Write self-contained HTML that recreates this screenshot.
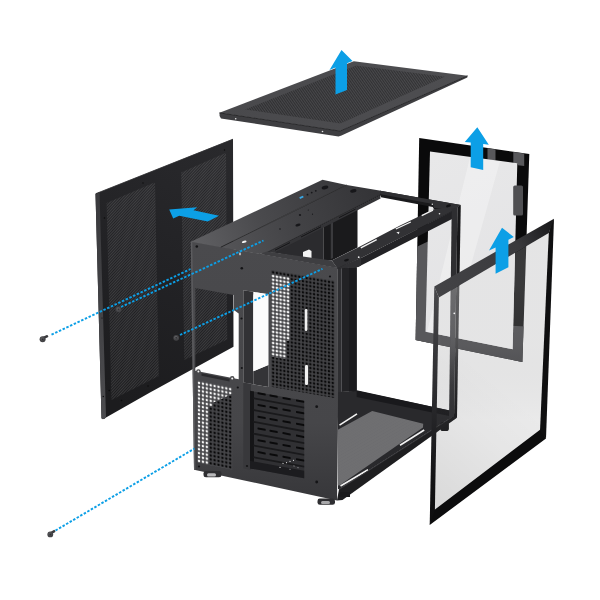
<!DOCTYPE html>
<html>
<head>
<meta charset="utf-8">
<title>Case exploded view</title>
<style>
html,body{margin:0;padding:0;background:#fff;font-family:"Liberation Sans",sans-serif;}
svg{display:block}
</style>
</head>
<body>
<svg width="600" height="600" viewBox="0 0 600 600">
<defs>
  <!-- fine mesh of the left side panel -->
  <pattern id="pMeshSide" width="2" height="2" patternUnits="userSpaceOnUse" patternTransform="rotate(-47)">
    <rect width="2" height="1" fill="#ffffff" fill-opacity="0.125"/>
  </pattern>
  <linearGradient id="gSide" gradientUnits="userSpaceOnUse" x1="110" y1="400" x2="230" y2="150">
    <stop offset="0" stop-color="#1c1c1e"/>
    <stop offset="0.5" stop-color="#222225"/>
    <stop offset="1" stop-color="#29292c"/>
  </linearGradient>
  <linearGradient id="gStrip" gradientUnits="userSpaceOnUse" x1="0" y1="194" x2="0" y2="419">
    <stop offset="0" stop-color="#3a3a3d"/>
    <stop offset="0.5" stop-color="#424245"/>
    <stop offset="1" stop-color="#4c4c4f"/>
  </linearGradient>
  <!-- stripes of top panel -->
  <pattern id="pMeshTop" width="1.5" height="4" patternUnits="userSpaceOnUse" patternTransform="rotate(24.4)">
    <rect width="1.5" height="4" fill="#000" fill-opacity="0.04"/>
    <rect width="0.75" height="4" fill="#000" fill-opacity="0.32"/>
  </pattern>
  <linearGradient id="gTopPanel" gradientUnits="userSpaceOnUse" x1="220" y1="0" x2="467" y2="0">
    <stop offset="0" stop-color="#49494c"/>
    <stop offset="1" stop-color="#4e4e51"/>
  </linearGradient>
  <!-- square hole vent, dark holes -->
  <pattern id="pVentDark" width="3.72" height="3.72" patternUnits="userSpaceOnUse" patternTransform="matrix(1 0.17 0 1 271.3 270.2)">
    <rect width="3.72" height="3.72" fill="#424245"/>
    <rect x="0.8" y="0.8" width="2.2" height="2.2" rx="0.6" fill="#0a0a0b"/>
  </pattern>
  <pattern id="pVentWhite" width="3.72" height="3.72" patternUnits="userSpaceOnUse" patternTransform="matrix(1 0.17 0 1 271.3 270.2)">
    <rect width="3.72" height="3.72" fill="#444447"/>
    <rect x="0.65" y="0.65" width="2.45" height="2.45" rx="0.7" fill="#f4f4f4"/>
  </pattern>
  <pattern id="pFloor" width="8" height="8" patternUnits="userSpaceOnUse" patternTransform="matrix(0.965 0.26 -0.865 0.5 372.2 411)">
    <rect width="8" height="8" fill="#323235"/>
    <g fill="#cacacc"><circle cx="1" cy="1" r="0.72"/><circle cx="1" cy="3" r="0.72"/><circle cx="1" cy="5" r="0.72"/><circle cx="1" cy="7" r="0.72"/><circle cx="3" cy="1" r="0.72"/><circle cx="3" cy="3" r="0.72"/><circle cx="3" cy="5" r="0.72"/><circle cx="3" cy="7" r="0.72"/><circle cx="5" cy="1" r="0.72"/><circle cx="5" cy="3" r="0.72"/><circle cx="5" cy="5" r="0.72"/><circle cx="5" cy="7" r="0.72"/><circle cx="7" cy="1" r="0.72"/><circle cx="7" cy="3" r="0.72"/><circle cx="7" cy="5" r="0.72"/><circle cx="7" cy="7" r="0.72"/></g>
  </pattern>
  <linearGradient id="gGlass1" gradientUnits="userSpaceOnUse" x1="430" y1="155" x2="515" y2="345">
    <stop offset="0" stop-color="#e8e8e9"/>
    <stop offset="1" stop-color="#e2e2e4"/>
  </linearGradient>
  <linearGradient id="gGlass2" gradientUnits="userSpaceOnUse" x1="0" y1="285" x2="0" y2="420">
    <stop offset="0" stop-color="#a6a6a8" stop-opacity="0.30"/>
    <stop offset="0.45" stop-color="#99999b" stop-opacity="0.26"/>
    <stop offset="1" stop-color="#505052" stop-opacity="0.12"/>
  </linearGradient>
  <linearGradient id="gG2Top" gradientUnits="userSpaceOnUse" x1="436" y1="290" x2="552" y2="225">
    <stop offset="0" stop-color="#434346"/>
    <stop offset="0.7" stop-color="#3a3a3d"/>
    <stop offset="1" stop-color="#1a1a1c"/>
  </linearGradient>
  <linearGradient id="gG2Left" gradientUnits="userSpaceOnUse" x1="0" y1="290" x2="0" y2="525">
    <stop offset="0" stop-color="#48484b"/>
    <stop offset="0.45" stop-color="#2b2b2e"/>
    <stop offset="0.82" stop-color="#121214"/>
    <stop offset="1" stop-color="#0d0d0e"/>
  </linearGradient>
  <linearGradient id="gG1Low" gradientUnits="userSpaceOnUse" x1="434" y1="0" x2="441" y2="0">
    <stop offset="0" stop-color="#58585b"/>
    <stop offset="1" stop-color="#444447"/>
  </linearGradient>

  <linearGradient id="gRear" gradientUnits="userSpaceOnUse" x1="0" y1="245" x2="0" y2="500">
    <stop offset="0" stop-color="#4a4a4d"/>
    <stop offset="0.7" stop-color="#464649"/>
    <stop offset="1" stop-color="#37373a"/>
  </linearGradient>
  <linearGradient id="gTop1" gradientUnits="userSpaceOnUse" x1="195" y1="242" x2="335" y2="182">
    <stop offset="0" stop-color="#5f5f62"/>
    <stop offset="0.45" stop-color="#4a4a4d"/>
    <stop offset="1" stop-color="#3a3a3d"/>
  </linearGradient>
  <linearGradient id="gTop2" gradientUnits="userSpaceOnUse" x1="225" y1="250" x2="375" y2="190">
    <stop offset="0" stop-color="#545457"/>
    <stop offset="0.45" stop-color="#434346"/>
    <stop offset="1" stop-color="#343437"/>
  </linearGradient>
  <pattern id="pPsuWhite" width="3.9" height="3.9" patternUnits="userSpaceOnUse" patternTransform="matrix(1 0.2 0 1 197.05 380.6)">
    <rect width="3.9" height="3.9" fill="#48484b"/>
    <rect x="0.85" y="0.85" width="2.2" height="2.2" rx="0.7" fill="#f6f6f6"/>
  </pattern>
  <pattern id="pPsuDark" width="3.9" height="3.9" patternUnits="userSpaceOnUse" patternTransform="matrix(1 0.2 0 1 197.05 380.6)">
    <rect width="3.9" height="3.9" fill="#454548"/>
    <rect x="0.85" y="0.85" width="2.2" height="2.2" rx="0.7" fill="#09090a"/>
  </pattern>
  <clipPath id="cG1"><polygon points="419.2,138 529.3,154 522.4,362 415.6,340"/></clipPath>
  <clipPath id="cG2"><polygon points="438.9,297.6 548.8,233 541,429 434.9,509.5"/></clipPath>
  <linearGradient id="gPostHaze" gradientUnits="userSpaceOnUse" x1="0" y1="285" x2="0" y2="385">
    <stop offset="0" stop-color="#fff" stop-opacity="0.16"/>
    <stop offset="0.5" stop-color="#fff" stop-opacity="0.12"/>
    <stop offset="1" stop-color="#fff" stop-opacity="0"/>
  </linearGradient>
  <linearGradient id="gGlass2b" gradientUnits="userSpaceOnUse" x1="436" y1="500" x2="520" y2="400">
    <stop offset="0" stop-color="#000" stop-opacity="0.07"/>
    <stop offset="0.6" stop-color="#000" stop-opacity="0.02"/>
    <stop offset="1" stop-color="#000" stop-opacity="0"/>
  </linearGradient>
</defs>

<rect width="600" height="600" fill="#ffffff"/>

<!-- ================= LEFT SIDE PANEL ================= -->
<g id="sidepanel">
  <polygon points="95.5,193.8 233,139 233.5,346.7 150,392.5 106,417.5 103,419.2 101.5,418.5" fill="url(#gSide)"/>
  <polygon points="95.5,193.8 99.5,192.2 106,417.3 104.5,419 102.2,419 101.5,417.5" fill="url(#gStrip)"/>
  <polyline points="96,193.6 233,139.2" fill="none" stroke="#2e2e31" stroke-width="0.8"/>
  <polygon points="106.6,203 155,182.3 158.8,376 111.5,400" fill="url(#pMeshSide)"/>
  <polygon points="181.2,172.5 226,152.8 227.2,339.5 184.3,360" fill="url(#pMeshSide)"/>
  <g fill="#0c0c0d">
    <circle cx="104.5" cy="218" r="0.8"/><circle cx="143" cy="183" r="0.7"/><circle cx="224.5" cy="150" r="0.7"/>
    <circle cx="109.2" cy="390.5" r="0.8"/><circle cx="121.5" cy="400.5" r="0.8"/><circle cx="148" cy="386" r="0.8"/>
    <circle cx="103.3" cy="396.5" r="0.7"/><circle cx="102" cy="318" r="0.6"/>
  </g>
</g>

<!-- left arrow -->
<polygon points="169.2,209.5 197.2,207.2 193.5,210.2 219,215.8 207.8,221.5 179.2,215.8 173.2,218.5" fill="#0c9fe6"/>

<!-- ================= TOP PANEL ================= -->
<g id="toppanel">
  <polygon points="219.5,112.8 353.8,61.2 467.5,75.8 340,131" fill="url(#gTopPanel)"/>
  <polygon points="219.5,112.8 340,131 467.5,75.8 467.3,77.6 341.5,135.6 338.5,136.6 221,118.4 219.6,116" fill="#3e3e41"/>
  <polyline points="219.5,112.9 340,131.1 467.5,75.9" fill="none" stroke="#29292b" stroke-width="1"/>
  <polygon points="245,109.5 356,65.5 445,76.8 340.5,123.5" fill="url(#pMeshTop)"/>
  <circle cx="235.7" cy="118.7" r="0.8" fill="#e8e8e8"/>
  <circle cx="322.5" cy="131.5" r="0.8" fill="#e8e8e8"/>
</g>
<!-- arrow 1 -->
<polygon points="341.5,50 352.5,61 347,63.2 347,90 335.5,94.5 335.5,67.6 329.5,70" fill="#0c9fe6"/>

<!-- ================= GLASS PANEL 1 (back) ================= -->
<g id="glass1">
  <polygon points="419.2,138 529.3,154 522.4,362 415.6,340" fill="#0a0a0b"/>
  <!-- lower part of the frame is grey (reflection) -->
  <g clip-path="url(#cG1)" fill="url(#gG1Low)">
    <polygon points="414,248.2 431,240.1 431,345 414,345"/>
    <polygon points="414,342 425.5,331.2 512.8,348.7 524,364 414,342"/>
    <polygon points="511,325.7 527,326.5 527,366 511,366"/>
  </g>
  <polygon points="487.5,148.2 495.5,149.4 495.5,160.5 487.5,159.4" fill="#58585b"/>
  <polygon points="513.3,152 524.2,153.6 524.2,166 518,165.2 517.3,163.4 513.3,162.8" fill="#58585b"/>
  <polygon points="430,151.5 517.3,163.3 512.6,349.2 425.5,331.7" fill="url(#gGlass1)"/>
  <polygon points="470,157.2 500,161.2 451,336.7 427,332" fill="#ffffff" fill-opacity="0.3"/>
  <rect x="513.2" y="185.5" width="9.8" height="30" rx="1.6" fill="#4f4f52"/>
  <polygon points="430,151.5 517.3,163.3 512.6,349.2 425.5,331.7" fill="#ffffff" clip-path="url(#cG2)"/>
</g>

<!-- ================= CASE ================= -->
<g id="case">
  <polyline points="190.8,242.2 337.3,268.5" fill="none" stroke="#48484b" stroke-width="1.4"/>
  <polyline points="337.3,268.3 452,211" fill="none" stroke="#2a2a2d" stroke-width="1.4"/>
  <!-- ===== interior seen through right opening: floor ===== -->
  <!-- left-bottom rail + floor solid -->
  <polygon points="338,392 356.7,390.8 452,411 456.7,416.7 452,417 339,489.3 338,489" fill="#29292c"/>
  <polygon points="356.7,390.3 452,411 452,416.5 356.7,397" fill="#19191c"/>
  <!-- floor mesh -->
  <polygon points="337.8,429.8 372.2,411 423.2,423.8 423,427.5 339,485.8 337.8,485" fill="url(#pFloor)"/>
  <!-- floor slots (white) -->
  <g stroke="#f2f2f2" stroke-width="1.6" stroke-linecap="butt">
    <line x1="339.5" y1="425.2" x2="357" y2="413.8"/>
    <line x1="400" y1="445.2" x2="424.2" y2="430"/>
    <line x1="340.5" y1="486" x2="368" y2="469.8"/>
  </g>
  <!-- ===== things seen through top opening ===== -->
  <polygon points="267,252.5 323.3,224.5 323.3,261 267,251.6" fill="#2b2b2e"/>
  <polygon points="303,252 309,249.5 311.5,251 311.5,258.8 303,257.6" fill="#f4f4f4"/>
  <polygon points="323.3,224.5 357.5,207.5 357.5,247.5 331.7,260.5 323.3,260.6" fill="#1a1a1c"/>
  <polygon points="330.8,221 333,220 333,258 330.8,259" fill="#3a3a3d"/>
  <!-- ===== rear face ===== -->
  <path fill-rule="evenodd" fill="url(#gRear)" d="M190.8,241.7 L337.3,268 L337,500.5 L194,469.7 Z
     M195.3,288 L233.8,295 L233.8,310 L238.7,313.5 L238.7,379.3 L195.3,370.8 Z
     M243.3,290.3 L268.3,294.2 L268.3,387 L243.3,382.5 Z" />
  <polygon points="190.8,241.7 192.3,242 195.4,470 194,469.7" fill="#5c5c5f"/>
  <!-- IO cutout contents -->
  <polygon points="243.3,290.3 253.3,291.8 253.3,384.3 243.3,382.5" fill="#323235"/>
  <polygon points="253.3,371.2 268.3,365 268.3,387 253.3,384.3" fill="#343437"/>
  <path d="M253.3,297 Q253.3,292 257,292.5 L268.3,294.2 L268.3,365 L253.3,371.2 Z" fill="#fbfbfb"/>
  <!-- vent mesh -->
  <polygon points="271,270 334.5,280.8 334.5,398 271,386.7" fill="url(#pVentDark)"/>
  <polygon points="271.3,274 289.9,277.2 289.9,341 286.2,341 286.2,359 271.3,356.5" fill="url(#pVentWhite)"/>
  <rect x="304.8" y="309" width="2.6" height="22" rx="1.2" fill="#f0f0f0"/>
  <rect x="305" y="365" width="3" height="20" rx="1.2" fill="#f0f0f0"/>
  <!-- psu plate top ears / recessed band -->
  <circle cx="198.4" cy="371.6" r="2.3" fill="#48484b"/><circle cx="232.2" cy="378.4" r="2.3" fill="#48484b"/>
  <circle cx="198.4" cy="371.6" r="1" fill="#f4f4f4"/><circle cx="232.2" cy="378.4" r="1" fill="#f4f4f4"/>
  <polygon points="201.5,373.2 229.5,378.8 229.5,381.4 201.5,375.8" fill="#2b2b2e"/>
  <!-- psu mesh -->
  <polygon points="197.05,380.6 232.15,387.6 232.15,469.5 197.05,462.5" fill="url(#pPsuWhite)"/>
  <polygon points="208.75,406 212.65,406.8 212.65,403 232.15,394 232.15,469.5 208.75,464.8" fill="url(#pPsuDark)"/>
  <!-- column between psu and pci -->
  <polygon points="243.3,382.5 251,384 251,470 243.3,468.5" fill="#38383b"/>
  <!-- pci -->
  <g transform="matrix(1 0.185 0 1 250 390.8)">
    <rect x="0" y="0" width="54.2" height="77.5" fill="#303033"/>
    <rect x="0" y="0" width="4" height="77.5" fill="#151517"/>
    <rect x="0" y="70" width="54.2" height="7.5" fill="#1c1c1f"/>
    <rect x="3" y="5.9" width="51.2" height="1.8" fill="#19191b"/>
    <rect x="3" y="17.7" width="51.2" height="1.8" fill="#19191b"/>
    <rect x="3" y="29.5" width="51.2" height="1.8" fill="#19191b"/>
    <rect x="3" y="41.3" width="51.2" height="1.8" fill="#19191b"/>
    <rect x="3" y="53.1" width="51.2" height="1.8" fill="#19191b"/>
    <rect x="3" y="64.9" width="51.2" height="1.8" fill="#19191b"/>
    <rect x="7.5" y="0.0" width="8.2" height="2" rx="0.6" fill="#0a0a0b"/>
    <rect x="19.5" y="0.0" width="8.2" height="2" rx="0.6" fill="#0a0a0b"/>
    <rect x="32.5" y="0.0" width="8.2" height="2" rx="0.6" fill="#0a0a0b"/>
    <rect x="46" y="0.0" width="8.2" height="2" rx="0.6" fill="#0a0a0b"/>
    <rect x="7.5" y="11.6" width="8.2" height="2" rx="0.6" fill="#0a0a0b"/>
    <rect x="19.5" y="11.6" width="8.2" height="2" rx="0.6" fill="#0a0a0b"/>
    <rect x="32.5" y="11.6" width="8.2" height="2" rx="0.6" fill="#0a0a0b"/>
    <rect x="46" y="11.6" width="8.2" height="2" rx="0.6" fill="#0a0a0b"/>
    <rect x="7.5" y="23.4" width="8.2" height="2" rx="0.6" fill="#0a0a0b"/>
    <rect x="19.5" y="23.4" width="8.2" height="2" rx="0.6" fill="#0a0a0b"/>
    <rect x="32.5" y="23.4" width="8.2" height="2" rx="0.6" fill="#0a0a0b"/>
    <rect x="46" y="23.4" width="8.2" height="2" rx="0.6" fill="#0a0a0b"/>
    <rect x="7.5" y="35.2" width="8.2" height="2" rx="0.6" fill="#0a0a0b"/>
    <rect x="19.5" y="35.2" width="8.2" height="2" rx="0.6" fill="#0a0a0b"/>
    <rect x="32.5" y="35.2" width="8.2" height="2" rx="0.6" fill="#0a0a0b"/>
    <rect x="46" y="35.2" width="8.2" height="2" rx="0.6" fill="#0a0a0b"/>
    <rect x="7.5" y="47.0" width="8.2" height="2" rx="0.6" fill="#0a0a0b"/>
    <rect x="19.5" y="47.0" width="8.2" height="2" rx="0.6" fill="#0a0a0b"/>
    <rect x="32.5" y="47.0" width="8.2" height="2" rx="0.6" fill="#0a0a0b"/>
    <rect x="46" y="47.0" width="8.2" height="2" rx="0.6" fill="#0a0a0b"/>
    <rect x="7.5" y="58.8" width="8.2" height="2" rx="0.6" fill="#0a0a0b"/>
    <rect x="19.5" y="58.8" width="8.2" height="2" rx="0.6" fill="#0a0a0b"/>
    <rect x="32.5" y="58.8" width="8.2" height="2" rx="0.6" fill="#0a0a0b"/>
    <rect x="46" y="58.8" width="8.2" height="2" rx="0.6" fill="#0a0a0b"/>
    <g fill="#d8d8da">
      <circle cx="33" cy="66.5" r="0.6"/><circle cx="36.5" cy="65" r="0.6"/><circle cx="40" cy="63.2" r="0.6"/><circle cx="43.5" cy="61.5" r="0.6"/>
      <circle cx="30" cy="71" r="0.6"/><circle cx="44" cy="67" r="0.5"/><circle cx="48" cy="68" r="0.5"/><circle cx="40" cy="71" r="0.5"/>
    </g>
  </g>
  <!-- rear screws -->
  <g fill="#141416">
    <circle cx="196.8" cy="246.5" r="1.3"/><circle cx="241.8" cy="268.3" r="1.3"/>
    <circle cx="241.5" cy="318.5" r="1.1"/><circle cx="241.8" cy="368" r="1.1"/>
    <circle cx="316.7" cy="406.7" r="1.4"/><circle cx="316.7" cy="482" r="1.4"/>
    <circle cx="330" cy="276.5" r="1.1"/><circle cx="237.8" cy="387.5" r="1.1"/>
    <circle cx="199" cy="466.5" r="1.1"/><circle cx="247" cy="466" r="1.1"/>
  </g>
  <!-- corner strip + post right face -->
  <polygon points="337.3,268 341.3,268 341.3,392 338.3,392 337,500.5" fill="#2e2e31"/>
  <polygon points="341.3,268 356.7,267.3 356.7,391 341.3,392" fill="#222225"/>
  <polygon points="349,267.6 356.7,267.3 356.7,391 349,391.5" fill="#1b1b1e"/>
  <!-- ===== top face ===== -->
  <polygon points="190.8,241.7 322.5,179.7 346.7,185 220.8,247.2" fill="url(#gTop1)"/>
  <polygon points="220.8,247.2 346.7,185 380.8,190.8 380,195 267,252.5 259.5,254" fill="url(#gTop2)"/>
  <polyline points="220.8,247.2 346.7,185" fill="none" stroke="#1e1e20" stroke-width="0.8"/>
  <polyline points="267,252.8 380,195.3" fill="none" stroke="#141416" stroke-width="1.2"/>
  <polygon points="268,252 380,195.2 380.6,198.4 274,252.8" fill="#343437"/>
  <g stroke="#151517" stroke-width="1" fill="none">
    <line x1="339" y1="217.6" x2="355.5" y2="209.2"/>
    <line x1="301" y1="237" x2="321" y2="226.8"/>
    <line x1="275" y1="250.2" x2="290" y2="242.6"/>
  </g>
  <!-- front bar of top frame -->
  <polygon points="259.5,254 267,251.6 331.7,260.5 337.3,268" fill="#3e3e41"/>
  <!-- back bar -->
  <polygon points="380.3,190.8 460.8,205 452,208.5 434,209.2 432.8,207 381,197.3 380,195" fill="#1a1a1c"/>
  <polygon points="380.3,190.8 460.8,205 452,208.5 434,208 433,204 380.6,194.3" fill="#303033"/>
  <!-- right bar: top face + side face -->
  <polygon points="331.7,260.5 358,247.5 400,225.5 434,209.2 460.8,205 452,211.3 400,238 361,258 337.3,268.3" fill="#323235"/>
  <polygon points="337.3,268.3 361,258 400,238 452,211.3 452,219 400,245.5 358,267 356.7,267.3 341.3,268.3" fill="#232326"/>
  <polygon points="337.3,268.3 361,258 361,265.5 358,267 341.3,268.3" fill="#303033"/>
  <g stroke="#f2f2f2" stroke-width="1.3">
    <line x1="360.8" y1="247.9" x2="376.7" y2="239.6"/>
    <line x1="395.8" y1="229" x2="410.8" y2="222"/>
    <line x1="421.7" y1="215.6" x2="433" y2="210.2"/>
  </g>
  <polygon points="396.3,232.3 399.5,231.8 398.8,234.2" fill="#e8e8e8"/>
  <ellipse cx="448.5" cy="205.8" rx="2.6" ry="1.3" fill="#131315" transform="rotate(-20 448.5 205.8)"/>
  <circle cx="432.3" cy="204.2" r="0.7" fill="#e8e8e8"/><circle cx="439.5" cy="213.8" r="0.8" fill="#e8e8e8"/>
  <circle cx="455.3" cy="214.5" r="0.7" fill="#e8e8e8"/>
  <circle cx="358.7" cy="257.2" r="0.9" fill="#e8e8e8"/>
  <ellipse cx="346.5" cy="260.2" rx="2.5" ry="1.2" fill="#131315" transform="rotate(-15 346.5 260.2)"/>
  <!-- top face details -->
  <g fill="#17171a">
    <ellipse cx="325" cy="187.5" rx="3.4" ry="1.8" transform="rotate(-12 325 187.5)"/>
    <ellipse cx="353.3" cy="190.8" rx="3.2" ry="1.7" transform="rotate(-12 353.3 190.8)"/>
    <circle cx="315.8" cy="190.8" r="0.9"/><circle cx="311.7" cy="192.6" r="0.9"/><circle cx="307.5" cy="194.7" r="0.9"/>
    <circle cx="300" cy="215" r="1.1"/><circle cx="308.3" cy="210" r="0.6"/><circle cx="312.5" cy="214.2" r="0.6"/>
    <ellipse cx="298" cy="225" rx="2.6" ry="1.4" transform="rotate(-15 298 225)"/>
    <circle cx="280" cy="229" r="0.8"/>
  </g>
  <rect x="299.5" y="196.4" width="4" height="1.8" fill="#38a9e8" transform="rotate(-25 301.5 197.3)"/>
  <ellipse cx="244.2" cy="241.8" rx="2.4" ry="1.1" fill="#f4f4f4" transform="rotate(-15 244.2 241.8)"/>
  <rect x="239.4" y="252.6" width="1.2" height="2.6" fill="#f4f4f4"/>
  <!-- right post -->
  <polygon points="451.7,209 457.5,207 454,419.5 449,421" fill="#2e2e31"/>
  <polygon points="457.5,207 460.8,205 457,417 454,419.5" fill="#18181a"/>
  <!-- bottom right bar -->
  <rect x="440.3" y="422" width="8.6" height="9" rx="2.6" fill="#1c1c1e"/>
  <polygon points="339,489.3 452,417 457,416.7 456.6,418 342.5,500 337,500.5" fill="#1e1e20"/>
  <polyline points="339,489.6 452,417.3" fill="none" stroke="#353538" stroke-width="1"/>
  <!-- feet -->
  <rect x="203.5" y="471" width="18" height="6.3" rx="2.4" fill="#2e2e31"/><rect x="207" y="473.2" width="9" height="3.2" rx="1.5" fill="#b8b8ba"/>
  <rect x="317.5" y="498.5" width="17.5" height="6.3" rx="2.4" fill="#2e2e31"/><rect x="321" y="501" width="9" height="3" rx="1.5" fill="#a8a8aa"/>
  <rect x="339" y="492" width="11" height="5" fill="#1a1a1c"/>
</g>

<!-- ================= GLASS PANEL 2 (front, translucent) ================= -->
<g id="glass2">
  <polygon points="438.9,297.6 548.8,233 541,429 434.9,509.5" fill="url(#gGlass2)"/>
  <polygon points="438.9,297.6 548.8,233 541,429 434.9,509.5" fill="url(#gGlass2b)"/>
  <!-- extra haze over the post -->
  <polygon points="451.2,290.3 460,285.2 457.6,385 449.3,385" fill="url(#gPostHaze)"/>
  <polygon points="429.7,525 546,438.4 541,429 434.9,509.5 432,509" fill="#0c0c0d"/>
  <polygon points="554,218.7 546,438.4 540,431 548.8,233 551,224" fill="#0f0f10"/>
  <polygon points="434.3,286.5 554,218.7 548.8,233 438.9,297.6" fill="url(#gG2Top)"/>
  <polygon points="434.3,286.5 438.9,297.6 434.9,509.5 429.7,525" fill="url(#gG2Left)"/>
  <circle cx="454.3" cy="313.3" r="0.9" fill="#f4f4f4"/>
</g>

<!-- arrows 2 & 3 -->
<polygon points="477.3,127.3 488.8,144.7 483.2,144 483.2,170 470.7,167.3 470.7,142.6 464.8,142" fill="#0c9fe6"/>
<polygon points="502,227.8 513.8,237 508.4,239.8 508.4,267.2 495.6,273.8 495.6,247.4 489,250.6" fill="#0c9fe6"/>

<!-- ================= SCREWS & DOTTED LINES ================= -->
<g stroke="#0c9fe6" stroke-width="1.9" stroke-dasharray="2.5 1.6" fill="none">
  <line x1="51.5" y1="334.6" x2="190.5" y2="269"/>
  <line x1="121" y1="307" x2="263.5" y2="240.5"/>
  <line x1="180" y1="335" x2="322.5" y2="268.8"/>
  <line x1="55.5" y1="530.5" x2="194.4" y2="448.6"/>
</g>
<g id="screws">
  <g transform="translate(42.6,339.3)"><rect x="0" y="-2.1" width="6.4" height="2.5" rx="0.8" fill="#3a3a3d" transform="rotate(-25)"/><circle r="3" fill="#434346"/><circle cx="-0.4" cy="-0.5" r="1.7" fill="#5a5a5d"/><circle cx="0" cy="0" r="0.9" fill="#2e2e31"/></g>
  <g transform="translate(50.3,534.4)"><rect x="0" y="-2.1" width="6" height="2.5" rx="0.8" fill="#3a3a3d" transform="rotate(-30)"/><circle r="2.9" fill="#434346"/><circle cx="-0.4" cy="-0.5" r="1.6" fill="#5a5a5d"/><circle cx="0" cy="0" r="0.9" fill="#2e2e31"/></g>
  <g transform="translate(118.5,309.3)"><circle r="2.9" fill="#434346"/><circle cx="-0.3" cy="-0.4" r="1.7" fill="#5c5c5f"/><circle r="0.9" fill="#2e2e31"/></g>
  <g transform="translate(176.2,337.8)"><circle r="2.9" fill="#434346"/><circle cx="-0.3" cy="-0.4" r="1.7" fill="#5c5c5f"/><circle r="0.9" fill="#2e2e31"/></g>
</g>
</svg>
</body>
</html>
